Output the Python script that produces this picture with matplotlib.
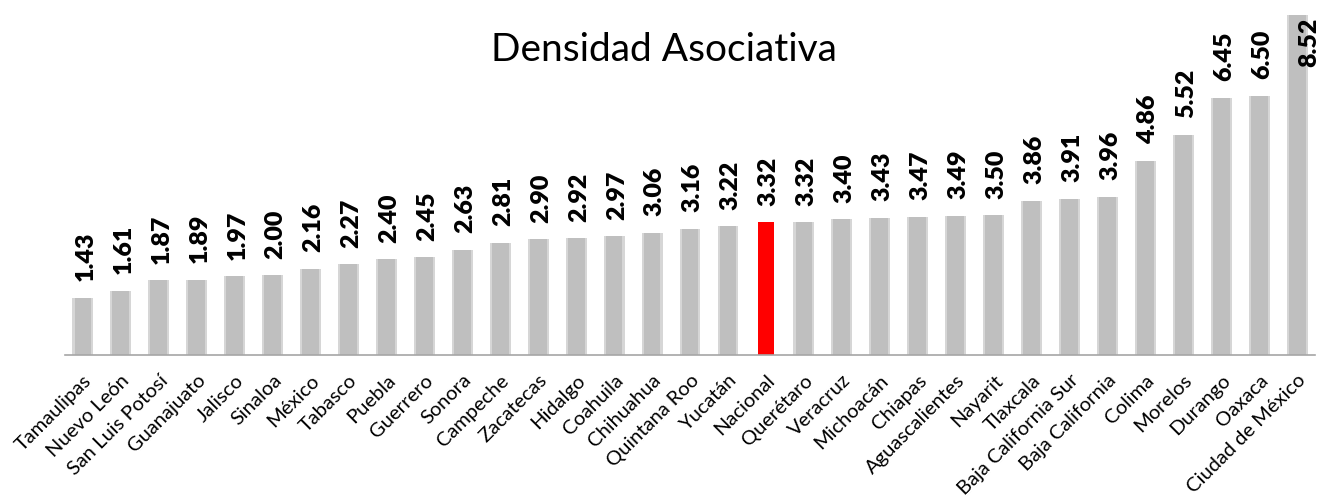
import matplotlib.pyplot as plt

estados = ["Tamaulipas", "Nuevo León", "San Luis Potosí", "Guanajuato", "Jalisco",
           "Sinaloa", "México", "Tabasco", "Puebla", "Guerrero", "Sonora", "Campeche",
           "Zacatecas", "Hidalgo", "Coahuila", "Chihuahua", "Quintana Roo", "Yucatán",
           "Nacional", "Querétaro", "Veracruz", "Michoacán", "Chiapas", "Aguascalientes",
           "Nayarit", "Tlaxcala", "Baja California Sur", "Baja California", "Colima",
           "Morelos", "Durango", "Oaxaca", "Ciudad de México"]
densidad = [1.43, 1.61, 1.87, 1.89, 1.97, 2.00, 2.16, 2.27, 2.40, 2.45, 2.63, 2.81,
            2.90, 2.92, 2.97, 3.06, 3.16, 3.22, 3.32, 3.32, 3.40, 3.43, 3.47, 3.49,
            3.50, 3.86, 3.91, 3.96, 4.86, 5.52, 6.45, 6.50, 8.52]

plt.rcParams['font.family'] = ['Lato', 'DejaVu Sans']

fig = plt.figure(figsize=(13.27, 4.96), dpi=100)
ax = fig.add_axes([0.049, 0.2843, 0.942, 0.6855])

x = list(range(len(estados)))
colores = ['#ff0000' if e == "Nacional" else '#bfbfbf' for e in estados]
sombra = ['none' if e == "Nacional" else '#d6d6d6' for e in estados]

# soft edge behind the gray bars
ax.bar(x, densidad, width=0.55, color=sombra, zorder=1)
ax.bar(x, densidad, width=0.44, color=colores, zorder=2)

for i, v in enumerate(densidad):
    if v > 8:
        ax.annotate(f"{v:.2f}", (i, v), xytext=(9, -2), textcoords='offset points',
                    rotation=90, ha='center', va='top', fontsize=18,
                    fontweight='heavy', zorder=3)
    else:
        ax.annotate(f"{v:.2f}", (i, v), xytext=(2, 12), textcoords='offset points',
                    rotation=90, ha='center', va='bottom', fontsize=18,
                    fontweight='heavy', zorder=3)

ax.set_xlim(-0.47, len(estados) - 0.53)
ax.set_ylim(0, 8.52)
ax.set_xticks(x)
ax.set_xticklabels(estados, rotation=45, ha='right', rotation_mode='anchor', fontsize=14.5)
ax.tick_params(axis='x', length=0, pad=12)
ax.set_yticks([])
for s in ['top', 'right', 'left']:
    ax.spines[s].set_visible(False)
ax.spines['bottom'].set_color('#a6a6a6')
ax.spines['bottom'].set_linewidth(1.2)

fig.text(0.5, 0.9, "Densidad Asociativa", ha='center', va='center', fontsize=28)

fig.savefig('out.png', dpi=100)
